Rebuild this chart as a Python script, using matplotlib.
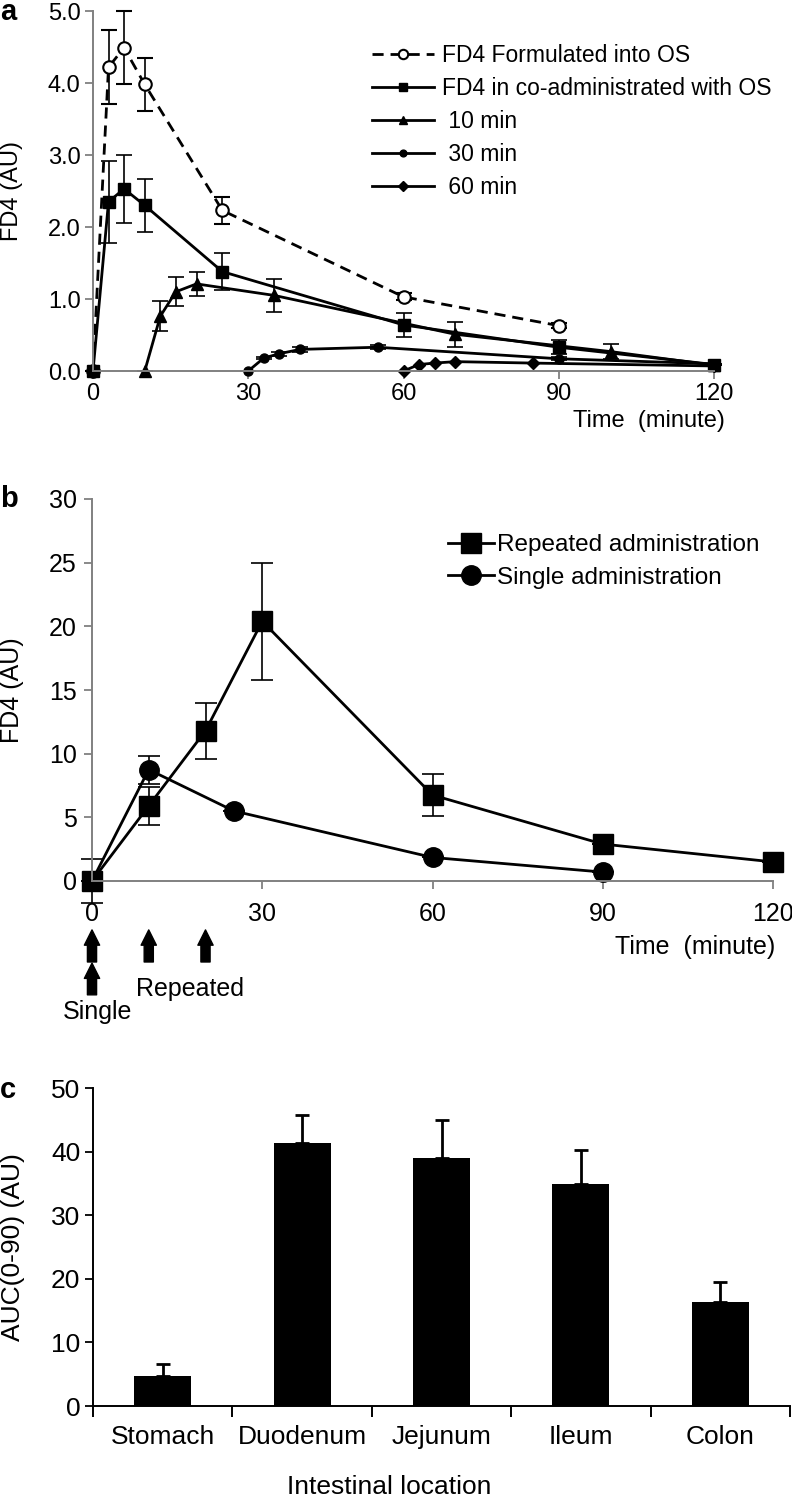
import numpy as np
import matplotlib
matplotlib.use('Agg')
import matplotlib.pyplot as plt

plt.rcParams['font.family'] = ['Liberation Sans', 'DejaVu Sans']

# ---- panel a: FD4 time courses ----
t_os = [0, 3, 6, 10, 25, 60, 90]
os_mean = [0, 4.22, 4.49, 3.98, 2.23, 1.03, 0.63]
os_err = [0, 0.51, 0.51, 0.37, 0.19, 0.05, 0.03]

t_co = [0, 3, 6, 10, 25, 60, 90, 120]
co_mean = [0, 2.35, 2.53, 2.30, 1.38, 0.64, 0.33, 0.09]
co_err = [0, 0.57, 0.47, 0.37, 0.26, 0.17, 0.10, 0]

t_10 = [10, 13, 16, 20, 35, 70, 100, 120]
m_10 = [0, 0.76, 1.10, 1.21, 1.05, 0.51, 0.27, 0.08]
e_10 = [0, 0.21, 0.20, 0.17, 0.23, 0.17, 0.10, 0]

t_30 = [30, 33, 36, 40, 55, 90, 120]
m_30 = [0, 0.18, 0.24, 0.30, 0.33, 0.17, 0.10]
e_30 = [0, 0.02, 0.03, 0.04, 0.03, 0.02, 0]

t_60 = [60, 63, 66, 70, 85, 120]
m_60 = [0, 0.09, 0.11, 0.13, 0.11, 0.07]

# ---- panel b: single vs repeated ----
t_rep = [0, 10, 20, 30, 60, 90, 120]
rep_mean = [0, 5.9, 11.8, 20.4, 6.75, 2.9, 1.5]
rep_err = [1.7, 1.5, 2.2, 4.6, 1.65, 0, 0]
t_sgl = [0, 10, 25, 60, 90]
sgl_mean = [0, 8.75, 5.5, 1.85, 0.7]
sgl_err = [0, 1.1, 0, 0, 0]
dose_rep = [0, 10, 20]
dose_sgl = [0]

# ---- panel c: AUC by location ----
sites = ['Stomach', 'Duodenum', 'Jejunum', 'Ileum', 'Colon']
auc = [4.7, 41.3, 39.0, 34.9, 16.3]
auc_err = [1.9, 4.4, 6.0, 5.3, 3.2]

W, H = 792, 1498
GRAY = '#808080'


def box(l, t, r, b):
    return [l / W, 1 - b / H, (r - l) / W, (b - t) / H]


def fx(x):
    return x / W


def fy(y):
    return 1 - y / H


def style_axes(ax, color, fs, pad=3):
    for s in ('top', 'right'):
        ax.spines[s].set_visible(False)
    for s in ('left', 'bottom'):
        ax.spines[s].set_color(color)
        ax.spines[s].set_linewidth(1.4)
    ax.tick_params(direction='out', length=6, width=1.3, color=color,
                   labelsize=fs, pad=pad)


fig = plt.figure(figsize=(W / 100, H / 100), dpi=100, facecolor='white')

# ================= a =================
ax = fig.add_axes(box(93, 11, 714, 371))
style_axes(ax, GRAY, 17)
eb = dict(ecolor='black', elinewidth=1.2, capsize=6, capthick=1.2, clip_on=False)
h_os = ax.errorbar(t_os, os_mean, yerr=os_err, fmt='--o', color='black', lw=2,
                   ms=9, mfc='white', mew=1.5, dashes=(4, 2.5), **eb)
h_co = ax.errorbar(t_co, co_mean, yerr=co_err, fmt='-s', color='black', lw=2,
                   ms=8, **eb)
h_10 = ax.errorbar(t_10, m_10, yerr=e_10, fmt='-^', color='black', lw=2, ms=8, **eb)
h_30 = ax.errorbar(t_30, m_30, yerr=e_30, fmt='-o', color='black', lw=2, ms=6.5, **eb)
h_60, = ax.plot(t_60, m_60, '-D', color='black', lw=2, ms=6.5, clip_on=False)
ax.set_xlim(0, 120)
ax.set_ylim(0, 5)
ax.set_xticks([0, 30, 60, 90, 120])
ax.set_yticks(np.arange(0, 5.01, 1.0))
ax.yaxis.set_major_formatter(matplotlib.ticker.FormatStrFormatter('%.1f'))
ax.legend([h_os[0], h_co[0], h_10[0], h_30[0], h_60],
          ['FD4 Formulated into OS', 'FD4 in co-administrated with OS',
           ' 10 min', ' 30 min', ' 60 min'],
          loc='upper left', bbox_to_anchor=(fx(372), fy(44)),
          bbox_transform=fig.transFigure, frameon=False, fontsize=16.5,
          handlelength=2.7, handletextpad=0.35, labelspacing=0.44,
          borderpad=0, borderaxespad=0, markerscale=0.75)
fig.text(fx(725), fy(421), 'Time  (minute)', ha='right', va='center', fontsize=17)
fig.text(fx(12), fy(191), 'FD4 (AU)', rotation=90, ha='center', va='center', fontsize=17)
fig.text(fx(0), fy(12), 'a', ha='left', va='center', fontsize=21, fontweight='bold')

# ================= b =================
bx = fig.add_axes(box(92, 499, 773, 881))
style_axes(bx, GRAY, 18, pad=5)
bx.tick_params(axis='x', pad=9)
eb2 = dict(ecolor='black', elinewidth=1.2, capsize=8, capthick=1.2, clip_on=False)
h_rep = bx.errorbar(t_rep, rep_mean, yerr=rep_err, fmt='-s', color='black', lw=2,
                    ms=14, **eb2)
h_sgl = bx.errorbar(t_sgl, sgl_mean, yerr=sgl_err, fmt='-o', color='black', lw=2,
                    ms=14, **eb2)
bx.set_xlim(0, 120)
bx.set_ylim(0, 30)
bx.set_xticks([0, 30, 60, 90, 120])
bx.set_yticks([0, 5, 10, 15, 20, 25, 30])
bx.legend([h_rep[0], h_sgl[0]], ['Repeated administration', 'Single administration'],
          loc='upper left', bbox_to_anchor=(fx(448), fy(534)),
          bbox_transform=fig.transFigure, frameon=False, fontsize=17.5,
          handlelength=1.9, handletextpad=0.1, labelspacing=0.45,
          borderpad=0, borderaxespad=0)
fig.text(fx(775), fy(947), 'Time  (minute)', ha='right', va='center', fontsize=18)
fig.text(fx(12), fy(690), 'FD4 (AU)', rotation=90, ha='center', va='center', fontsize=18)
fig.text(fx(0), fy(499), 'b', ha='left', va='center', fontsize=21, fontweight='bold')

arr = dict(arrowstyle='simple,head_width=0.55,head_length=0.55,tail_width=0.33',
           mutation_scale=20, color='black', shrinkA=0, shrinkB=0)
trans = bx.get_xaxis_transform()
for t in dose_rep:
    bx.annotate('', xy=(t, -0.128), xytext=(t, -0.212), xycoords=trans,
                textcoords=trans, arrowprops=arr, annotation_clip=False)
for t in dose_sgl:
    bx.annotate('', xy=(t, -0.215), xytext=(t, -0.298), xycoords=trans,
                textcoords=trans, arrowprops=arr, annotation_clip=False)
fig.text(fx(190), fy(989), 'Repeated', ha='center', va='center', fontsize=18)
fig.text(fx(97), fy(1012), 'Single', ha='center', va='center', fontsize=18)

# ================= c =================
cx = fig.add_axes(box(93, 1088, 790, 1406))
style_axes(cx, 'black', 19)
pos = np.arange(len(sites))
cx.bar(pos, auc, width=0.41, color='black')
cx.errorbar(pos, auc, yerr=[np.zeros(len(auc)), auc_err], fmt='none',
            ecolor='black', elinewidth=2, capsize=5, capthick=2)
cx.set_xlim(-0.5, len(sites) - 0.5)
cx.set_ylim(0, 50)
cx.set_yticks(np.arange(0, 51, 10))
cx.set_xticks(pos)
cx.set_xticklabels(sites)
cx.tick_params(axis='x', which='major', length=0, pad=14)
cx.set_xticks(np.arange(-0.5, len(sites)), minor=True)
cx.tick_params(axis='x', which='minor', direction='out', length=8, width=1.4,
               color='black')
fig.text(fx(389), fy(1487), 'Intestinal location', ha='center', va='center', fontsize=19)
fig.text(fx(13), fy(1247), 'AUC(0-90) (AU)', rotation=90, ha='center', va='center',
         fontsize=19)
fig.text(fx(0), fy(1090), 'c', ha='left', va='center', fontsize=21, fontweight='bold')

fig.savefig('out.png', dpi=100, facecolor='white')
